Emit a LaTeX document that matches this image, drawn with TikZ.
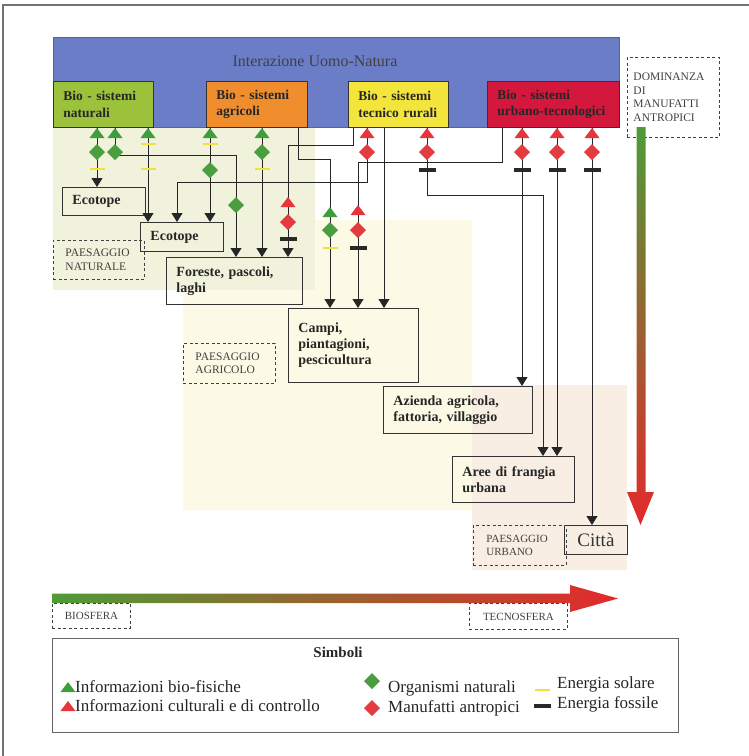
\documentclass[tikz,border=0pt]{standalone}
\usepackage{fontspec}
\setmainfont{Liberation Serif}
\usetikzlibrary{arrows.meta}

\definecolor{bannerBlue}{HTML}{6C7DC8}
\definecolor{natGreen}{HTML}{9CC23C}
\definecolor{agrOrange}{HTML}{F08E2E}
\definecolor{tecYellow}{HTML}{F4E53C}
\definecolor{urbRed}{HTML}{D3173D}
\definecolor{zoneNat}{HTML}{F0F2DB}
\definecolor{zoneAgr}{HTML}{FCFAE4}
\definecolor{zoneUrb}{HTML}{F8EEE3}
\definecolor{infoGreen}{HTML}{3E9E3C}
\definecolor{infoRed}{HTML}{E8343B}
\definecolor{orgGreen}{HTML}{4A9E40}
\definecolor{manRed}{HTML}{E23B40}
\definecolor{solarYellow}{HTML}{F1E23A}
\definecolor{fossilBlack}{HTML}{2A2A24}
\definecolor{gradGreen}{HTML}{4E9B37}
\definecolor{gradMid}{HTML}{C47E2F}
\definecolor{gradRed}{HTML}{E4292B}

% little symbols sitting on the flows
\tikzset{
  gtri/.pic={\fill[infoGreen] (-7.5,5) -- (7.5,5) -- (0,-5) -- cycle;},
  rtri/.pic={\fill[infoRed] (-7.5,5) -- (7.5,5) -- (0,-5) -- cycle;},
  gdia/.pic={\fill[orgGreen] (0,-8) -- (8,0) -- (0,8) -- (-8,0) -- cycle;},
  rdia/.pic={\fill[manRed] (0,-8) -- (8,0) -- (0,8) -- (-8,0) -- cycle;},
  solar/.pic={\fill[solarYellow] (-7.5,-1.2) rectangle (7.5,1.2);},
  fossil/.pic={\fill[fossilBlack] (-8.5,-1.6) rectangle (8.5,1.6);}
}

\begin{document}
\begin{tikzpicture}[x=1pt, y=-1pt,
  flow/.style={draw=black!85, line width=0.9pt, -{Triangle[width=11pt,length=9pt]}},
  frame/.style={draw=black!55, line width=1.4pt},
  biobox/.style={draw=black!80, line width=0.6pt, anchor=north west, minimum height=46pt,
    inner xsep=10pt, align=left, text=black!85, font=\bfseries\fontsize{13.5}{16.5}\selectfont},
  placebox/.style={draw=black!80, line width=0.9pt, anchor=north west, inner xsep=10pt,
    align=left, text=black!85, font=\bfseries\fontsize{14}{16}\selectfont},
  landbox/.style={draw=black!75, line width=0.9pt, dash pattern=on 3pt off 2.5pt, anchor=north west,
    align=left, text=black!75, font=\fontsize{11.5}{13.5}\selectfont},
  legtext/.style={anchor=base west, inner sep=0pt, text=black!85, font=\fontsize{17}{19}\selectfont}]

\useasboundingbox (0,0) rectangle (749,756);
\clip (0,0) rectangle (749,756);

% Outer frame
\draw[frame] (3,770) -- (3,5) -- (770,5);

% Landscapes in the background
\fill[zoneUrb] (472,385) rectangle (627,570);
\fill[zoneAgr] (183,220) rectangle (472,510);
\fill[zoneNat] (53,127) rectangle (315,290);

% Banner and the four bio-systems
\node[draw=black!60, line width=0.6pt, fill=bannerBlue, anchor=north west,
  minimum width=566pt, minimum height=90pt] (banner) at (53,37) {};
\node[anchor=base, text=black!75, font=\fontsize{16}{18}\selectfont] (banner-title) at (315,66) {Interazione Uomo-Natura};
\node[biobox, fill=natGreen, text width=80pt] (bio-nat) at (53,81) {Bio - sistemi\\naturali};
\node[biobox, fill=agrOrange, text width=81pt] (bio-agr) at (206,81) {Bio - sistemi\\agricoli};
\node[biobox, fill=tecYellow, text width=80pt] (bio-tec) at (348,81) {Bio - sistemi\\tecnico rurali};
\node[biobox, fill=urbRed, text width=112pt] (bio-urb) at (487,81) {Bio - sistemi\\urbano-tecnologici};

% Landscape elements
\node[placebox, minimum width=83pt, minimum height=28pt, text width=63pt] (eco-1) at (62,187) {Ecotope};
\node[placebox, minimum width=83pt, minimum height=29pt, text width=63pt] (eco-2) at (140,222) {Ecotope};
\node[placebox, minimum width=136pt, minimum height=47pt, text width=116pt] (forest) at (166,257) {Foreste, pascoli,\\laghi};
\node[placebox, minimum width=130pt, minimum height=74pt, text width=110pt] (fields) at (288,308) {Campi,\\piantagioni,\\pescicultura};
\node[placebox, minimum width=149pt, minimum height=47pt, text width=129pt] (farm) at (383,386) {Azienda agricola,\\fattoria, villaggio};
\node[placebox, minimum width=122pt, minimum height=46pt, text width=102pt] (fringe) at (452,456) {Aree di frangia\\urbana};
\node[draw=black!80, line width=0.9pt, anchor=north west, minimum width=63pt, minimum height=29pt,
  text=black!80, font=\fontsize{19}{21}\selectfont] (city) at (564,525) {Città};

% Dashed landscape labels
\node[landbox, minimum width=91pt, minimum height=39pt, inner xsep=12pt, text width=67pt] (land-nat) at (53,240) {PAESAGGIO\\NATURALE};
\node[landbox, minimum width=92pt, minimum height=40pt, inner xsep=12pt, text width=68pt] (land-agr) at (183,343) {PAESAGGIO\\AGRICOLO};
\node[landbox, minimum width=93pt, minimum height=40pt, inner xsep=13pt, text width=67pt,
  font=\fontsize{11}{13}\selectfont] (land-urb) at (473,525) {PAESAGGIO\\URBANO};
\node[landbox, minimum width=92pt, minimum height=80pt, inner xsep=6pt, text width=80pt] (dominance) at (627,57) {DOMINANZA\\DI\\MANUFATTI\\ANTROPICI};

% Column positions and bends of the flows
\foreach \n/\x in {a/97, b/115, c/148, d/210, e/262, f/298, g/353, h/367,
                   k/384, m/427, p/502, q/522, r/557, s/592}
  \coordinate (x-\n) at (\x,0);
\coordinate (bend-b) at (236,155);
\coordinate (bend-h) at (177,182);
\coordinate (bend-f) at (330,159);
\coordinate (bend-g) at (288,145);
\coordinate (bend-p) at (358,162);
\coordinate (bend-m) at (543,195);

% Straight flows
\foreach \src/\col/\dst in {bio-nat/a/eco-1, bio-nat/c/eco-2, bio-agr/d/eco-2, bio-agr/e/forest,
                            bio-tec/k/fields, bio-urb/q/farm, bio-urb/r/fringe, bio-urb/s/city}
  \draw[flow] (\src.south -| x-\col) -- (\dst.north -| x-\col);

% Flows with a bend
\foreach \src/\col/\dst in {bio-nat/b/forest, bio-tec/h/eco-2, bio-agr/f/fields,
                            bio-tec/g/forest, bio-urb/p/fields, bio-tec/m/fringe}
  \draw[flow] (\src.south -| x-\col) |- (bend-\col) -- (\dst.north -| bend-\col);

% Symbols on the flows
\foreach \x/\y in {97/133, 115/133, 148/133, 210/133, 262/133, 330/212}
  \pic at (\x,\y) {gtri};
\foreach \x/\y in {367/133, 427/133, 522/133, 557/133, 592/133, 288/202, 358/210}
  \pic at (\x,\y) {rtri};
\foreach \x/\y in {97/152, 115/152, 210/170, 262/152, 236/205, 330/230}
  \pic at (\x,\y) {gdia};
\foreach \x/\y in {367/152, 427/152, 522/152, 557/152, 592/152, 288/222, 358/230}
  \pic at (\x,\y) {rdia};
\foreach \x/\y in {148/144, 148/169, 97/169, 210/144, 262/169, 330/248}
  \pic at (\x,\y) {solar};
\foreach \x/\y in {427/170, 522/170, 557/170, 592/170, 288/239, 358/248}
  \pic at (\x,\y) {fossil};

% Gradient arrows
\shade[top color=gradGreen, middle color=gradMid, bottom color=gradRed]
  (636.5,127) -- (645.5,127) -- (645.5,492) -- (654,492) -- (640.5,525)
  -- (627,492) -- (636.5,492) -- cycle;
\shade[left color=gradGreen, middle color=gradMid, right color=gradRed]
  (52,593.5) -- (570,593.5) -- (570,585) -- (618,598.5) -- (570,612)
  -- (570,603) -- (52,603) -- cycle;
\node[landbox, minimum width=78pt, minimum height=25pt, align=center, font=\fontsize{11}{13}\selectfont] (biosphere) at (52,603) {BIOSFERA};
\node[landbox, minimum width=98pt, minimum height=26pt, align=center, font=\fontsize{11}{13}\selectfont] (technosphere) at (469,603) {TECNOSFERA};

% Legend
\node[draw=black!60, line width=1.3pt, anchor=north west, minimum width=626pt, minimum height=94pt] (legend) at (52,638) {};
\node[anchor=base, inner sep=0pt, text=black!85, font=\bfseries\fontsize{15}{17}\selectfont] (legend-title) at (338,657) {Simboli};
\pic at (68,687) {gtri};
\pic at (68,706) {rtri};
\pic at (372,681) {gdia};
\pic at (372,708) {rdia};
\pic at (542,690) {solar};
\pic at (542,706) {fossil};
\node[legtext] (leg-biofis) at (75,692) {Informazioni bio-fisiche};
\node[legtext] (leg-cult) at (75,711) {Informazioni culturali e di controllo};
\node[legtext] (leg-org) at (388,692) {Organismi naturali};
\node[legtext] (leg-man) at (388,712) {Manufatti antropici};
\node[legtext] (leg-solar) at (557,688) {Energia solare};
\node[legtext] (leg-fossil) at (557,708) {Energia fossile};

\end{tikzpicture}
\end{document}
